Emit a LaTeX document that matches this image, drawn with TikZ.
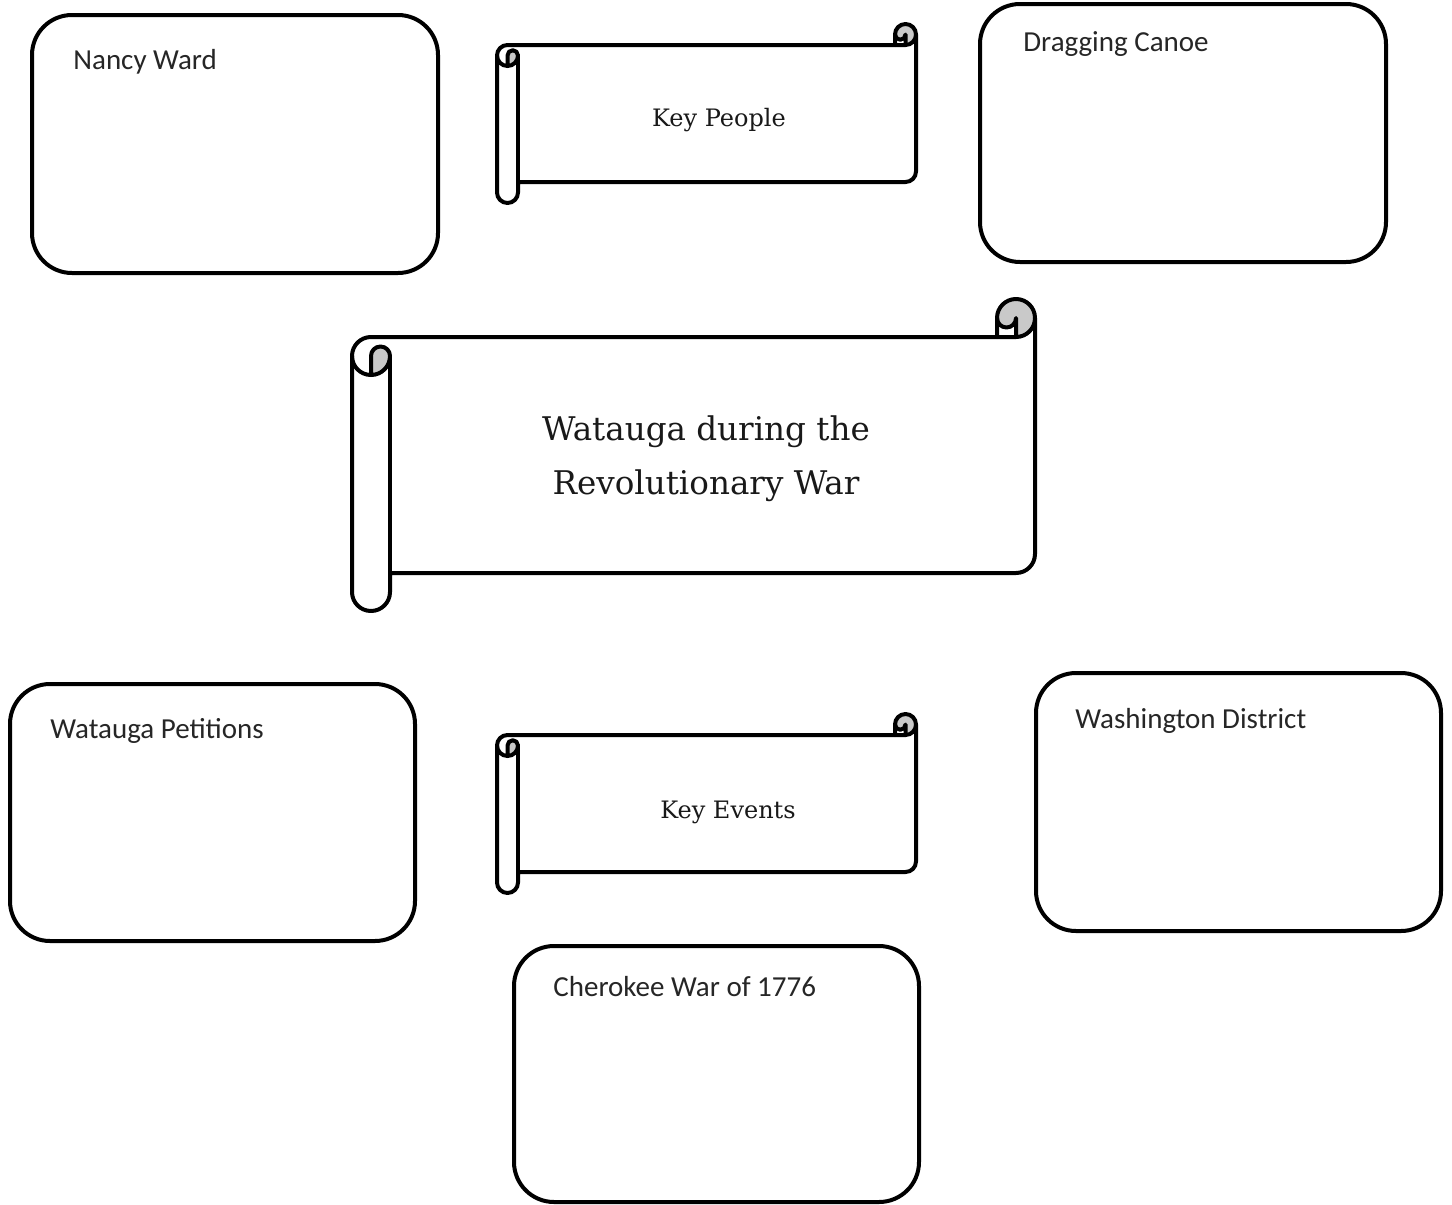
\documentclass[tikz,border=0pt]{standalone}
\usepackage{fontspec}
\newfontfamily\boxfont{Carlito}
\newfontfamily\scrollfont{DejaVu Serif}
\tikzset{
  outl/.style={line width=2pt, line join=round, line cap=round},
  rbox/.style={draw, line width=2pt, rounded corners=20pt, inner sep=0pt, outer sep=0pt},
  boxlabel/.style={anchor=base west, inner sep=0pt, font=\boxfont\fontsize{14.5}{17}\selectfont, text=black!85},
  scrolllabel/.style={inner sep=0pt, font=\scrollfont\fontsize{12}{15}\selectfont, text=black!90},
  curlfill/.style={fill=black!21},
}
\newcommand\hscroll[5]{%
  \pgfmathsetmacro\hsL{#1}\pgfmathsetmacro\hsT{#2}\pgfmathsetmacro\hsR{#3}\pgfmathsetmacro\hsB{#4}%
  \pgfmathsetmacro\hsC{#5}\pgfmathsetmacro\hsH{#5/2}\pgfmathsetmacro\hsQ{#5/4}%
  \pgfmathsetmacro\hsXa{\hsL+\hsH}\pgfmathsetmacro\hsXb{\hsL+\hsC}%
  \pgfmathsetmacro\hsXc{\hsR-\hsC}\pgfmathsetmacro\hsXd{\hsR-\hsH}%
  \pgfmathsetmacro\hsYa{\hsT+\hsH}\pgfmathsetmacro\hsYb{\hsT+\hsC}%
  \pgfmathsetmacro\hsYc{\hsT+\hsC+\hsH}\pgfmathsetmacro\hsYd{\hsT+2*\hsC}%
  \pgfmathsetmacro\hsYe{\hsB-\hsC-\hsH}\pgfmathsetmacro\hsYf{\hsB-\hsC}\pgfmathsetmacro\hsYg{\hsB-\hsH}%
  \fill[curlfill] (\hsXa,\hsYd) arc[start angle=90,end angle=0,radius=\hsH]
     arc[start angle=0,end angle=-180,radius=\hsQ] -- cycle;
  \fill[curlfill] (\hsXd,\hsYb) arc[start angle=90,end angle=-180,radius=\hsH]
     arc[start angle=180,end angle=0,radius=\hsQ] -- cycle;
  \draw[outl] (\hsL,\hsYc) arc[start angle=180,end angle=270,radius=\hsH]
     -- (\hsXc,\hsYb) -- (\hsXc,\hsYa) arc[start angle=180,end angle=360,radius=\hsH]
     -- (\hsR,\hsYe) arc[start angle=0,end angle=90,radius=\hsH]
     -- (\hsXb,\hsYf) -- (\hsXb,\hsYg) arc[start angle=0,end angle=180,radius=\hsH] -- cycle;
  \draw[outl] (\hsXc,\hsYb) -- (\hsXd,\hsYb) arc[start angle=90,end angle=0,radius=\hsH];
  \draw[outl] (\hsXd,\hsYb) -- (\hsXd,\hsYa) arc[start angle=0,end angle=180,radius=\hsQ];
  \draw[outl] (\hsXa,\hsYd) -- (\hsXa,\hsYc) arc[start angle=180,end angle=360,radius=\hsQ]
     arc[start angle=0,end angle=180,radius=\hsH];
  \draw[outl] (\hsXb,\hsYc) -- (\hsXb,\hsYf);
}
\begin{document}
\begin{tikzpicture}[x=0.5pt,y=-0.5pt]
\useasboundingbox[fill=white] (0,0) rectangle (1452,1205);

% rounded boxes
\node[rbox, minimum width=203pt, minimum height=129pt] (nancy) at (235,144) {};
\node[rbox, minimum width=203pt, minimum height=129pt] (canoe) at (1183,133) {};
\node[rbox, minimum width=202.5pt, minimum height=128.5pt] (petitions) at (212.5,812.5) {};
\node[rbox, minimum width=202.5pt, minimum height=129pt] (district) at (1238.5,802) {};
\node[rbox, minimum width=202.5pt, minimum height=128pt] (cherokee) at (716.5,1074) {};

\node[boxlabel] (nancyT) at (73,69) {Nancy Ward};
\node[boxlabel] (canoeT) at (1023,51) {Dragging Canoe};
\node[boxlabel] (petitionsT) at (50,738) {Watauga Petitions};
\node[boxlabel] (districtT) at (1075,728) {Washington District};
\node[boxlabel] (cherokeeT) at (553,996) {Cherokee War of 1776};

% scrolls
\hscroll{352}{299}{1035}{611}{38}
\node[inner sep=0pt, align=center, font=\scrollfont\fontsize{16.3}{27}\selectfont, text=black!90] (mainT) at (706,459) {Watauga during the\\Revolutionary War};

\hscroll{497}{24}{916}{203}{21}
\node[scrolllabel] (peopleT) at (719,120) {Key People};

\hscroll{497}{714}{916}{893}{21}
\node[scrolllabel] (eventsT) at (728,812) {Key Events};
\end{tikzpicture}
\end{document}
